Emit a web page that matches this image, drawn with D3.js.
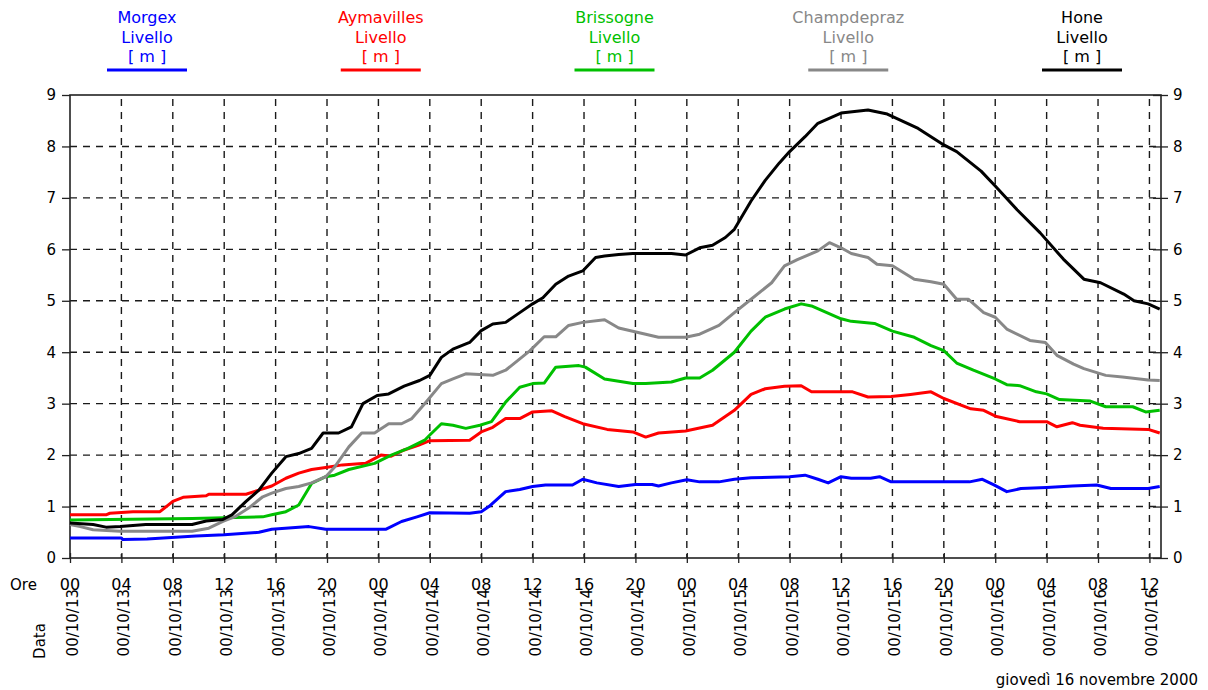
<!DOCTYPE html>
<html>
<head>
<meta charset="utf-8">
<script src="https://cdn.jsdelivr.net/npm/d3@7"></script>
<style>
  body { margin: 0; background: #fff; }
  text { font-family: "DejaVu Sans", sans-serif; font-size: 15px; }
</style>
</head>
<body>
<div id="drawing_region"></div>
<script>
// ore dall'inizio (00/10/13 ore 00) e livelli in metri
var morgexHours = [0, 4, 4.1, 6, 9.8, 12, 14.7, 15.7, 18.6, 19.9, 24.6, 25.8, 27, 28, 31.1, 32, 32.6, 33.9, 35, 36, 37, 39.1, 39.9, 41, 42.7, 44, 45.3, 45.8, 46.8, 48, 49, 50.5, 51.7, 53, 56, 57.2, 58.2, 59, 60, 60.8, 62.3, 63, 63.9, 70, 71, 71.9, 72.9, 74, 76, 78, 79.9, 81, 83.9, 84.8];
var morgexValues = [0.39, 0.39, 0.36, 0.37, 0.43, 0.45, 0.50, 0.56, 0.61, 0.56, 0.56, 0.71, 0.80, 0.88, 0.87, 0.90, 1.0, 1.29, 1.33, 1.39, 1.42, 1.42, 1.53, 1.46, 1.39, 1.43, 1.43, 1.40, 1.46, 1.52, 1.48, 1.48, 1.53, 1.56, 1.58, 1.61, 1.53, 1.46, 1.58, 1.55, 1.55, 1.58, 1.48, 1.48, 1.53, 1.42, 1.29, 1.35, 1.37, 1.40, 1.42, 1.35, 1.35, 1.39];

var aymaHours = [0, 2.8, 3.1, 4.9, 7, 8, 8.8, 10.6, 10.8, 13.7, 14.7, 15.7, 16.8, 17.8, 18.8, 19.9, 21.2, 23, 24.2, 25, 26, 27.1, 28, 31.1, 32, 32.9, 33.9, 35, 36, 37.5, 38.5, 39.9, 41.8, 43.8, 44.8, 45.8, 47.9, 50, 51.7, 53, 54.1, 55.6, 56.9, 57.7, 60.9, 62.1, 63.9, 65.4, 67, 68, 70.1, 71.1, 72.1, 73.9, 76, 76.8, 78, 78.6, 80.4, 83.9, 84.8];
var aymaValues = [0.84, 0.84, 0.87, 0.90, 0.90, 1.10, 1.18, 1.21, 1.24, 1.24, 1.32, 1.40, 1.55, 1.65, 1.72, 1.76, 1.81, 1.84, 2.0, 1.98, 2.1, 2.19, 2.28, 2.29, 2.45, 2.54, 2.71, 2.71, 2.84, 2.86, 2.75, 2.61, 2.50, 2.45, 2.35, 2.43, 2.47, 2.58, 2.87, 3.18, 3.29, 3.34, 3.35, 3.23, 3.23, 3.13, 3.14, 3.18, 3.23, 3.10, 2.90, 2.87, 2.75, 2.65, 2.65, 2.55, 2.63, 2.58, 2.52, 2.50, 2.43];

var brisHours = [0, 9.5, 13.7, 15, 15.7, 16.8, 17.8, 18.5, 18.8, 19.9, 20.6, 21.7, 23.7, 25, 26.3, 27.6, 28, 28.9, 29.8, 30.8, 31.9, 32.8, 33.9, 35, 36, 36.9, 37.8, 39.6, 40.1, 41.6, 43.8, 44.8, 46.8, 47.9, 49, 50, 51.7, 53, 54.1, 55.6, 56.9, 57.7, 60, 60.8, 62.6, 64, 65.7, 67, 68, 69, 70.3, 72, 72.9, 73.9, 75.2, 76, 77, 79.4, 80.6, 82.7, 83.7, 84.8];
var brisValues = [0.74, 0.77, 0.79, 0.80, 0.84, 0.90, 1.03, 1.32, 1.45, 1.58, 1.61, 1.72, 1.84, 2.0, 2.13, 2.29, 2.39, 2.61, 2.58, 2.52, 2.58, 2.65, 3.03, 3.32, 3.39, 3.40, 3.71, 3.74, 3.71, 3.48, 3.39, 3.39, 3.42, 3.50, 3.50, 3.65, 4.0, 4.41, 4.68, 4.84, 4.94, 4.90, 4.65, 4.60, 4.56, 4.41, 4.29, 4.13, 4.03, 3.79, 3.65, 3.48, 3.37, 3.35, 3.23, 3.19, 3.08, 3.05, 2.94, 2.94, 2.84, 2.87];

var champHours = [0, 0.8, 1.8, 3.9, 9.5, 10.8, 11.9, 12.9, 13.9, 15, 15.7, 16.8, 17.8, 18.8, 19.9, 20.6, 21.7, 22.7, 23.7, 24.8, 25.8, 26.6, 27.6, 28.9, 29.8, 30.8, 32.9, 33.9, 35.8, 36.9, 37.8, 38.8, 39.9, 41.6, 42.7, 44.8, 45.8, 47.9, 49, 50.5, 51.7, 53, 54.6, 55.6, 56.6, 58.2, 59.1, 60, 60.8, 62.1, 62.8, 64, 65.7, 67, 68, 69, 69.9, 71.1, 72, 72.9, 74.7, 75.9, 76.8, 78.1, 78.9, 80.6, 81.9, 83.9, 84.8];
var champValues = [0.65, 0.61, 0.55, 0.52, 0.52, 0.58, 0.71, 0.81, 0.97, 1.19, 1.26, 1.35, 1.39, 1.46, 1.58, 1.77, 2.16, 2.43, 2.43, 2.61, 2.61, 2.71, 3.0, 3.39, 3.48, 3.58, 3.55, 3.65, 4.03, 4.30, 4.30, 4.52, 4.58, 4.63, 4.47, 4.35, 4.29, 4.29, 4.35, 4.52, 4.77, 5.03, 5.35, 5.68, 5.80, 5.97, 6.13, 6.03, 5.92, 5.84, 5.71, 5.68, 5.42, 5.37, 5.32, 5.03, 5.03, 4.77, 4.68, 4.45, 4.23, 4.19, 3.94, 3.77, 3.68, 3.55, 3.52, 3.46, 3.45];

var honeHours = [0, 1.8, 2.8, 3.9, 5.9, 9.5, 10.6, 11.9, 12.6, 13.7, 14.7, 15.7, 16.8, 17.8, 18.8, 19.7, 20.9, 21.9, 22.8, 23.9, 24.8, 26, 27.2, 28, 28.9, 29.8, 31.1, 32, 32.9, 33.9, 35, 36, 36.8, 37.8, 38.8, 39.9, 40.9, 41.6, 42.7, 43.8, 46.8, 47.9, 49, 50, 51, 51.7, 53, 54.1, 55.2, 56, 57.2, 58.2, 60, 62.1, 63.6, 66, 68, 69, 70.9, 72, 73.7, 75.5, 77.3, 78.9, 80.2, 82, 82.8, 83.9, 84.8];
var honeValues = [0.68, 0.65, 0.60, 0.61, 0.65, 0.65, 0.72, 0.75, 0.84, 1.10, 1.32, 1.65, 1.97, 2.03, 2.13, 2.43, 2.43, 2.55, 3.0, 3.16, 3.19, 3.34, 3.45, 3.55, 3.90, 4.06, 4.19, 4.42, 4.55, 4.58, 4.77, 4.94, 5.06, 5.32, 5.48, 5.58, 5.84, 5.87, 5.90, 5.92, 5.92, 5.89, 6.03, 6.08, 6.23, 6.39, 6.94, 7.34, 7.68, 7.90, 8.19, 8.45, 8.65, 8.71, 8.63, 8.35, 8.03, 7.90, 7.52, 7.23, 6.77, 6.32, 5.81, 5.42, 5.35, 5.13, 5.0, 4.94, 4.84];

var stationNames = ["Morgex", "Aymavilles", "Brissogne", "Champdepraz", "Hone"];
var stationColors = ["#0000ff", "#ff0000", "#00c000", "#888888", "#000000"];

var tickHours = [0, 4, 8, 12, 16, 20, 24, 28, 32, 36, 40, 44, 48, 52, 56, 60, 64, 68, 72, 76, 80, 84];
var hourLabels = ["00", "04", "08", "12", "16", "20", "00", "04", "08", "12", "16", "20", "00", "04", "08", "12", "16", "20", "00", "04", "08", "12"];
var dateLabels = ["00/10/13", "00/10/13", "00/10/13", "00/10/13", "00/10/13", "00/10/13",
                  "00/10/14", "00/10/14", "00/10/14", "00/10/14", "00/10/14", "00/10/14",
                  "00/10/15", "00/10/15", "00/10/15", "00/10/15", "00/10/15", "00/10/15",
                  "00/10/16", "00/10/16", "00/10/16", "00/10/16"];
var levelTicks = [0, 1, 2, 3, 4, 5, 6, 7, 8, 9];

var width = 1208;
var height = 690;
var margin = { top: 95, bottom: 132, left: 70, right: 47 };

var svg = d3.select("#drawing_region")
            .append("svg")
            .attr("width", width)
            .attr("height", height);

var xScale = d3.scaleLinear()
    .domain([0, 84.9])
    .range([margin.left, width - margin.right]);

var yScale = d3.scaleLinear()
    .domain([0, 9])
    .range([height - margin.bottom, margin.top]);

var series = [
    { hours: morgexHours, values: morgexValues },
    { hours: aymaHours, values: aymaValues },
    { hours: brisHours, values: brisValues },
    { hours: champHours, values: champValues },
    { hours: honeHours, values: honeValues }
];

// griglia tratteggiata
var grid = svg.append("g")
    .attr("stroke", "#1a1a1a")
    .attr("stroke-width", 1.4)
    .attr("stroke-dasharray", "7,6");

grid.selectAll(".hgrid")
    .data(levelTicks.slice(1, 9))
    .enter()
    .append("line")
    .attr("x1", margin.left)
    .attr("x2", width - margin.right)
    .attr("y1", function (d) { return yScale(d); })
    .attr("y2", function (d) { return yScale(d); });

grid.selectAll(".vgrid")
    .data(tickHours.slice(1))
    .enter()
    .append("line")
    .attr("x1", function (d) { return xScale(d); })
    .attr("x2", function (d) { return xScale(d); })
    .attr("y1", yScale(9) + 4)
    .attr("y2", yScale(0));

// assi
var axisStyle = function (g) {
    g.select(".domain").remove();
    g.selectAll(".tick line").attr("stroke", "#222").attr("stroke-width", 1.3);
    g.selectAll(".tick text").attr("fill", "#000").style("font-size", "15px")
        .style("font-family", '"DejaVu Sans", sans-serif');
};

svg.append("g")
    .attr("transform", "translate(" + margin.left + ",0)")
    .call(d3.axisLeft(yScale).tickValues(levelTicks).tickSize(8).tickPadding(6))
    .call(axisStyle);

svg.append("g")
    .attr("transform", "translate(" + xScale.range()[1] + ",0)")
    .call(d3.axisRight(yScale).tickValues(levelTicks).tickSize(7).tickPadding(5))
    .call(axisStyle)
    .selectAll(".tick line").attr("x1", -8);

svg.append("g")
    .attr("transform", "translate(0," + yScale(0) + ")")
    .call(d3.axisBottom(xScale).tickValues(tickHours).tickSize(5).tickFormat(""))
    .call(axisStyle)
    .selectAll(".tick line").attr("y1", -5);

// cornice
svg.append("rect")
    .attr("x", xScale.range()[0])
    .attr("y", yScale(9))
    .attr("width", xScale.range()[1] - xScale.range()[0])
    .attr("height", yScale(0) - yScale(9))
    .attr("fill", "none")
    .attr("stroke", "#222")
    .attr("stroke-width", 1.6);

// linee dei livelli
var line = d3.line()
    .x(function (d) { return xScale(d[0]); })
    .y(function (d) { return yScale(d[1]); });

series.forEach(function (s, i) {
    svg.append("path")
        .datum(d3.zip(s.hours, s.values))
        .attr("fill", "none")
        .attr("stroke", stationColors[i])
        .attr("stroke-width", 3)
        .attr("stroke-linejoin", "round")
        .attr("d", line);
});

// etichette ore e date
svg.append("text").attr("x", 10).attr("y", 590).text("Ore");
svg.append("text")
    .attr("transform", "translate(45,641) rotate(-90)")
    .attr("text-anchor", "middle")
    .text("Data");

svg.selectAll(".hourlab")
    .data(tickHours)
    .enter()
    .append("text")
    .attr("x", function (d) { return xScale(d); })
    .attr("y", 590)
    .attr("text-anchor", "middle")
    .style("font-size", "16px")
    .text(function (d, i) { return hourLabels[i]; });

svg.selectAll(".datelab")
    .data(tickHours)
    .enter()
    .append("text")
    .attr("transform", function (d) { return "translate(" + (xScale(d) + 8) + ",589) rotate(-90)"; })
    .attr("text-anchor", "end")
    .text(function (d, i) { return dateLabels[i]; });

svg.append("text")
    .attr("x", 1198)
    .attr("y", 685)
    .attr("text-anchor", "end")
    .text("giovedì 16 novembre 2000");

// legenda
var legendX = d3.scalePoint()
    .domain(stationNames)
    .range([147, 1082]);

var legend = svg.selectAll(".legend")
    .data(stationNames)
    .enter()
    .append("g")
    .attr("transform", function (d) { return "translate(" + legendX(d) + ",0)"; });

legend.each(function (d, i) {
    var g = d3.select(this);
    var rows = [d, "Livello", "[ m ]"];
    rows.forEach(function (r, j) {
        g.append("text")
            .attr("y", 23 + j * 19.5)
            .attr("text-anchor", "middle")
            .attr("fill", stationColors[i])
            .style("font-size", "16px")
            .text(r);
    });
    g.append("line")
        .attr("x1", -40).attr("x2", 40)
        .attr("y1", 70).attr("y2", 70)
        .attr("stroke", stationColors[i])
        .attr("stroke-width", 3);
});
</script>
</body>
</html>
